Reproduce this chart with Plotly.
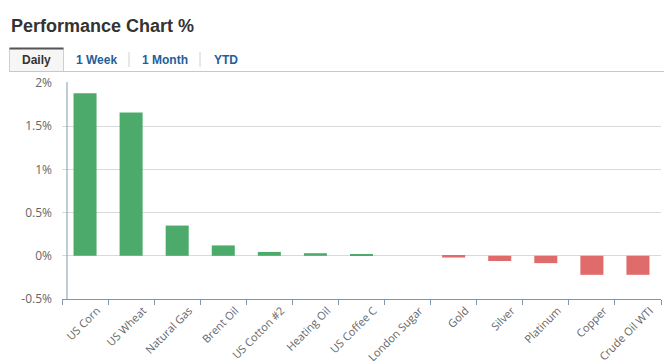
import plotly.graph_objects as go

categories = ["US Corn", "US Wheat", "Natural Gas", "Brent Oil", "US Cotton #2",
              "Heating Oil", "US Coffee C", "London Sugar", "Gold", "Silver",
              "Platinum", "Copper", "Crude Oil WTI"]
values = [1.88, 1.66, 0.35, 0.12, 0.045, 0.03, 0.018, 0.0, -0.02, -0.06,
          -0.085, -0.22, -0.22]
y_ticks = [-0.5, 0, 0.5, 1, 1.5, 2]
y_tick_labels = ["-0.5%", "0%", "0.5%", "1%", "1.5%", "2%"]
tabs = ["Daily", "1 Week", "1 Month", "YTD"]
title_text = "Performance Chart %"

GREEN = "#4CAB6B"
RED = "#E06B6B"
AXIS = "#7F98B2"
GRID = "#D9D9D9"

W_FIG, H_FIG = 664, 364
ML, MR, MT, MB = 62, 3, 83, 65
PW = W_FIG - ML - MR
PH = H_FIG - MT - MB


def px(x):
    return (x - ML) / PW


def py(y):
    return (H_FIG - MB - y) / PH


colors = [GREEN if v >= 0 else RED for v in values]

fig = go.Figure(go.Bar(x=categories, y=values, marker_color=colors,
                       marker_line_width=0, hoverinfo="x+y"))

shapes = [
    # y-axis line
    dict(type="line", xref="paper", yref="paper", x0=px(67), x1=px(67),
         y0=py(82), y1=py(299), line=dict(color=AXIS, width=1)),
    # tabs bottom line
    dict(type="line", xref="paper", yref="paper", x0=px(9), x1=px(664),
         y0=py(71.5), y1=py(71.5), line=dict(color="#C8C8C8", width=1)),
    # daily tab box
    dict(type="rect", xref="paper", yref="paper", x0=px(9.5), x1=px(63.5),
         y0=py(71.5), y1=py(48.5), fillcolor="#F6F6F6",
         line=dict(color="#CFCFCF", width=1), layer="below"),
    dict(type="line", xref="paper", yref="paper", x0=px(9.5), x1=px(63.5),
         y0=py(48.5), y1=py(48.5), line=dict(color="#555555", width=2)),
    # separators
    dict(type="line", xref="paper", yref="paper", x0=px(129), x1=px(129),
         y0=py(52), y1=py(67), line=dict(color="#D0D0D0", width=1)),
    dict(type="line", xref="paper", yref="paper", x0=px(200), x1=px(200),
         y0=py(52), y1=py(67), line=dict(color="#D0D0D0", width=1)),
]

annotations = [
    dict(text="<b>" + title_text + "</b>", xref="paper", yref="paper",
         x=px(9), y=py(25.5), xanchor="left", yanchor="middle", showarrow=False,
         font=dict(family="Liberation Sans, Arial", size=18, color="#333333")),
]
tab_centers = [36.5, 96.7, 165, 225.5]
for i, (t, cx) in enumerate(zip(tabs, tab_centers)):
    annotations.append(dict(
        text="<b>" + t + "</b>", xref="paper", yref="paper", x=px(cx), y=py(60),
        xanchor="center", yanchor="middle", showarrow=False,
        font=dict(family="Liberation Sans, Arial", size=12,
                  color="#333333" if i == 0 else "#245E98")))

fig.update_layout(
    width=W_FIG, height=H_FIG,
    margin=dict(l=ML, r=MR, t=MT, b=MB, autoexpand=False),
    paper_bgcolor="white", plot_bgcolor="white",
    showlegend=False, bargap=0.5,
    font=dict(family="Open Sans, sans-serif", color="#666666"),
    shapes=shapes, annotations=annotations,
    xaxis=dict(
        type="category", showgrid=False, showline=True, linecolor=AXIS,
        linewidth=1, ticks="outside", tickson="boundaries", ticklen=5,
        tickcolor=AXIS, tickangle=-45, tickfont=dict(size=11, color="#666666"),
        ticklabelshift=12, ticklabelstandoff=0,
        fixedrange=True, automargin=False,
    ),
    yaxis=dict(
        range=[-0.5, 2], tickvals=y_ticks, ticktext=y_tick_labels,
        showgrid=True, gridcolor=GRID, gridwidth=1, zeroline=True,
        zerolinecolor=GRID, zerolinewidth=1, showline=False,
        tickfont=dict(size=12, color="#666666"), ticklabelstandoff=9,
        fixedrange=True, automargin=False,
    ),
)

fig.write_html(
    "out.html",
    config={"displayModeBar": False},
    post_script="document.body.style.margin='0';document.body.style.overflow='hidden';",
)
